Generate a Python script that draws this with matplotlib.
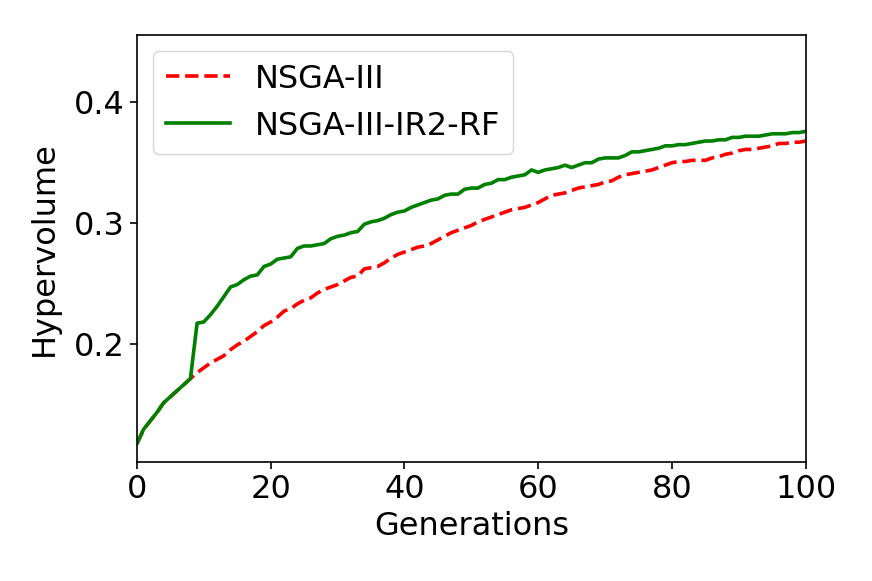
import matplotlib
matplotlib.use("Agg")
import matplotlib.pyplot as plt

generations = list(range(101))

hv_nsga3_ir2_rf = [
    0.117, 0.129, 0.136, 0.143, 0.151, 0.156, 0.161, 0.166, 0.171, 0.217,
    0.218, 0.224, 0.231, 0.239, 0.247, 0.249, 0.253, 0.256, 0.257, 0.264,
    0.266, 0.270, 0.271, 0.272, 0.279, 0.281, 0.281, 0.282, 0.283, 0.287,
    0.289, 0.290, 0.292, 0.293, 0.299, 0.301, 0.302, 0.304, 0.307, 0.309,
    0.310, 0.313, 0.315, 0.317, 0.319, 0.320, 0.323, 0.324, 0.324, 0.328,
    0.329, 0.329, 0.332, 0.333, 0.336, 0.336, 0.338, 0.339, 0.340, 0.344,
    0.342, 0.344, 0.345, 0.346, 0.348, 0.346, 0.348, 0.350, 0.350, 0.353,
    0.354, 0.354, 0.354, 0.356, 0.359, 0.359, 0.360, 0.361, 0.362, 0.364,
    0.364, 0.365, 0.365, 0.366, 0.367, 0.368, 0.368, 0.369, 0.369, 0.371,
    0.371, 0.372, 0.372, 0.372, 0.373, 0.374, 0.374, 0.374, 0.375, 0.375,
    0.376,
]

hv_nsga3 = [
    0.117, 0.129, 0.136, 0.143, 0.151, 0.156, 0.161, 0.166, 0.171, 0.176,
    0.180, 0.184, 0.187, 0.190, 0.195, 0.199, 0.202, 0.206, 0.210, 0.215,
    0.218, 0.222, 0.227, 0.229, 0.233, 0.236, 0.238, 0.242, 0.245, 0.247,
    0.249, 0.252, 0.255, 0.256, 0.262, 0.263, 0.264, 0.267, 0.271, 0.274,
    0.276, 0.278, 0.280, 0.281, 0.283, 0.286, 0.289, 0.292, 0.294, 0.296,
    0.298, 0.301, 0.303, 0.305, 0.307, 0.309, 0.311, 0.312, 0.313, 0.315,
    0.317, 0.320, 0.323, 0.324, 0.325, 0.327, 0.329, 0.330, 0.331, 0.332,
    0.334, 0.335, 0.338, 0.340, 0.341, 0.342, 0.343, 0.344, 0.346, 0.348,
    0.350, 0.351, 0.351, 0.352, 0.352, 0.352, 0.354, 0.355, 0.357, 0.358,
    0.360, 0.361, 0.361, 0.362, 0.363, 0.364, 0.366, 0.366, 0.367, 0.367,
    0.368,
]

fs = 23
fig = plt.figure(figsize=(8.72, 5.81), dpi=100)
ax = fig.add_axes([0.157, 0.205, 0.767, 0.735])

ax.plot(generations, hv_nsga3, "r--", linewidth=2.6, label="NSGA-III")
ax.plot(generations, hv_nsga3_ir2_rf, color="green", linewidth=2.6, label="NSGA-III-IR2-RF")

ax.set_xlim(0, 100)
ax.set_ylim(0.102, 0.456)
ax.set_xticks([0, 20, 40, 60, 80, 100])
ax.set_yticks([0.2, 0.3, 0.4])
ax.tick_params(labelsize=fs, length=5, width=1.2, pad=4)
for s in ax.spines.values():
    s.set_linewidth(1.2)

ax.set_xlabel("Generations", fontsize=fs, labelpad=4)
ax.set_ylabel("Hypervolume", fontsize=fs, labelpad=10)
ax.legend(loc="upper left", fontsize=fs)

fig.savefig("out.png", dpi=100)
